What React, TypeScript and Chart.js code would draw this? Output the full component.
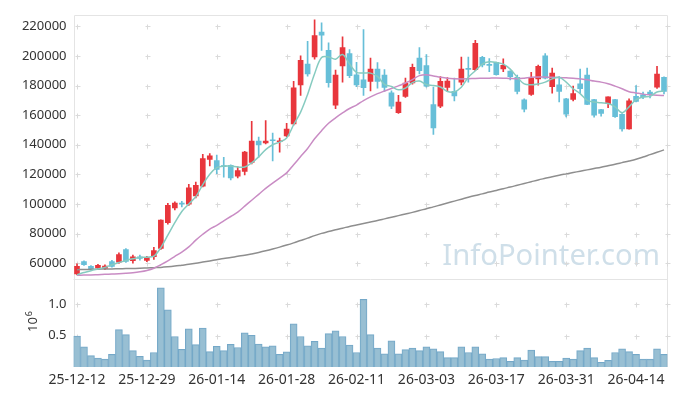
import React, { useEffect, useRef } from 'react';
import { Chart, registerables } from 'chart.js';
Chart.register(...registerables);

const dates = [
  '25-12-12','25-12-15','25-12-16','25-12-17','25-12-18','25-12-19','25-12-22','25-12-23','25-12-24','25-12-26',
  '25-12-29','25-12-30','26-01-02','26-01-05','26-01-06','26-01-07','26-01-08','26-01-09','26-01-12','26-01-13',
  '26-01-14','26-01-15','26-01-16','26-01-19','26-01-20','26-01-21','26-01-22','26-01-23','26-01-26','26-01-27',
  '26-01-28','26-01-29','26-01-30','26-02-02','26-02-03','26-02-04','26-02-05','26-02-06','26-02-09','26-02-10',
  '26-02-11','26-02-12','26-02-13','26-02-19','26-02-20','26-02-23','26-02-24','26-02-25','26-02-26','26-02-27',
  '26-03-03','26-03-04','26-03-05','26-03-06','26-03-09','26-03-10','26-03-11','26-03-12','26-03-13','26-03-16',
  '26-03-17','26-03-18','26-03-19','26-03-20','26-03-23','26-03-24','26-03-25','26-03-26','26-03-27','26-03-30',
  '26-03-31','26-04-01','26-04-02','26-04-03','26-04-06','26-04-07','26-04-08','26-04-09','26-04-10','26-04-13',
  '26-04-14','26-04-15','26-04-16','26-04-17','26-04-20'
];

const opens = [
  52700,61100,57800,56700,56400,61100,60700,69100,61600,64300,
  61800,64300,70000,87300,97300,100200,99800,105400,112000,130000,
  129300,125800,126000,118700,122000,128000,142500,141200,143100,142000,
  146000,154000,180500,194500,199300,216200,203800,166700,193300,201600,
  187300,183800,182700,191100,187100,175100,161600,172700,181800,198500,
  193500,167100,166000,178800,176100,182300,191300,190700,199100,194000,
  195600,191300,189800,185600,170300,174000,184500,200000,179300,180500,
  171100,170700,181100,187100,170500,163800,167800,170500,160500,150700,
  172700,173800,175600,178900,185600
];
const highs = [
  59600,61500,58400,59100,58800,61800,66900,69800,65500,65400,
  64600,70600,89300,100400,101400,101800,113300,114800,133500,134000,
  133000,131500,126500,125100,135600,155800,145100,156300,147800,144500,
  154500,182900,200000,209800,224400,222300,208800,190500,212900,204300,
  195600,217800,198500,195500,190700,176400,173300,185100,194500,205600,
  201000,179000,186000,185300,185000,199300,199300,210500,199800,198300,
  195900,198000,190000,187100,171100,188900,193800,201600,191800,186000,
  171300,179600,191100,191800,170700,164000,172300,170700,161000,171100,
  180000,175600,176700,193000,185800
];
const lows = [
  52000,58500,55600,56000,55600,57300,59800,60400,60000,62000,
  61000,62500,69300,86300,96000,98000,99000,104100,111500,125600,
  120500,118000,116300,117600,119600,127000,131600,140500,129100,134900,
  145500,153300,173300,186300,197800,203800,178900,164300,182200,185300,
  179300,173300,176300,178300,176000,164300,161100,171900,181000,187800,
  178900,147000,165000,176000,169600,180500,182300,190000,192600,189300,
  187000,189300,183800,174400,162200,173300,180200,184500,174900,168900,
  158800,169600,174900,167100,158700,159300,165100,158500,149100,150500,
  168900,171100,171600,178100,174400
];
const closes = [
  57800,58900,56300,58500,58000,57800,65800,61100,64300,63100,
  63800,68500,89100,99100,100500,99900,110900,112500,130700,132500,
  123300,125200,117600,122500,135100,142500,139800,142500,142700,142700,
  150500,178500,197100,187800,213800,214000,182000,187100,205700,186700,
  180500,178500,191100,182700,178700,166000,168900,181600,192300,190000,
  179500,151400,182900,183000,172900,191100,190900,208500,194000,193600,
  187300,193600,186000,176000,164000,184900,192900,184900,188500,176000,
  160700,174500,177800,167300,160000,161100,172300,158900,150700,169600,
  169300,172300,173800,187800,176000
];

// trading volume, in units of 10^6
const volumes = [
  0.49,0.32,0.18,0.14,0.125,0.20,0.595,0.515,0.26,0.17,
  0.11,0.23,1.26,0.91,0.485,0.28,0.605,0.355,0.62,0.245,
  0.33,0.26,0.36,0.31,0.545,0.505,0.365,0.32,0.335,0.20,
  0.24,0.685,0.485,0.335,0.41,0.30,0.53,0.575,0.485,0.35,
  0.23,1.075,0.515,0.30,0.21,0.415,0.21,0.275,0.30,0.26,
  0.32,0.29,0.245,0.15,0.15,0.32,0.23,0.32,0.21,0.125,
  0.135,0.15,0.09,0.15,0.11,0.27,0.165,0.165,0.09,0.09,
  0.14,0.125,0.26,0.30,0.15,0.075,0.105,0.23,0.29,0.245,
  0.20,0.125,0.125,0.29,0.20
];

const ma5 = [
  52200,53600,54900,56000,57100,58900,60400,61800,62900,63800,
  64000,64700,70500,78900,87300,94900,100000,104900,113000,120000,
  124500,125600,125600,125000,124900,127800,131800,136700,140000,141800,
  144500,153500,162000,174000,188000,198900,199300,197800,201000,194500,
  188900,188500,188400,186200,180800,179300,177100,178300,182000,183000,
  180600,180000,179000,176000,175800,178900,185600,190000,194500,196000,
  195600,194500,191100,185600,181100,180500,181100,182300,184500,185600,
  182300,177800,174500,170000,168900,168300,167800,165600,161600,165600,
  170500,172300,172700,175600,176300
];
const ma20 = [
  51800,51900,52000,52200,52400,52600,52800,53100,53500,54100,
  55000,56500,58900,61500,64500,67500,71000,75500,79500,83000,
  85500,88500,91500,94500,98500,102500,106500,110500,114000,117500,
  121000,126500,132000,137500,144000,149500,154500,158200,161500,164500,
  166800,169800,172300,174500,176300,178000,179800,181700,184000,186700,
  187300,186500,185600,184900,184600,184500,184600,184800,184900,185000,
  185100,185000,184700,184600,185000,185600,185800,185700,185600,185400,
  185200,185000,184500,183900,183000,182300,181200,179600,177800,175800,
  175000,174200,173700,173400,173300
];
const ma60 = [
  55600,55700,55800,55900,56000,56100,56200,56300,56400,56500,
  56700,56900,57100,57500,58000,58600,59200,59900,60700,61500,
  62300,63100,63800,64600,65300,66200,67200,68300,69500,70800,
  72200,73700,75300,76900,78600,80100,81300,82500,83600,84800,
  85800,86800,87800,88800,89900,91000,92100,93200,94300,95500,
  96800,98000,99300,100600,101900,103200,104500,105700,106800,108000,
  109100,110300,111400,112600,113800,115000,116200,117300,118400,119400,
  120300,121200,122100,123000,123900,124800,125800,126800,127900,129000,
  130200,131700,133300,134900,136500
];

const priceTicks = [60000, 80000, 100000, 120000, 140000, 160000, 180000, 200000, 220000];
const volumeTicks = [0.5, 1.0];
const labelEvery = 10;

const FONT = '"Noto Sans", sans-serif';
const UP = '#e8363c';
const DOWN = '#67bfd8';

const decor = {
  id: 'decor',
  beforeDatasetsDraw(chart: any) {
    const ctx = chart.ctx;
    const { left, right, top, bottom } = chart.chartArea;
    const xs = chart.scales.x;
    const ys = chart.scales.y;
    const yv = chart.scales.yv;
    ctx.save();
    // watermark
    ctx.font = '30px ' + FONT;
    const w = ctx.measureText('InfoPointer.com').width;
    const size = 30 * 218 / w;
    ctx.font = size.toFixed(1) + 'px ' + FONT;
    ctx.fillStyle = '#cfdfe9';
    ctx.textAlign = 'right';
    ctx.textBaseline = 'alphabetic';
    ctx.fillText('InfoPointer.com', 660, 265);
    // frame
    ctx.strokeStyle = '#e4e4e4';
    ctx.lineWidth = 1;
    ctx.beginPath();
    ctx.moveTo(Math.round(left) + 0.5, bottom);
    ctx.lineTo(Math.round(left) + 0.5, Math.round(top) + 0.5);
    ctx.lineTo(Math.round(right) - 0.5, Math.round(top) + 0.5);
    ctx.lineTo(Math.round(right) - 0.5, bottom);
    ctx.moveTo(left, Math.round(ys.bottom) + 0.5);
    ctx.lineTo(right, Math.round(ys.bottom) + 0.5);
    ctx.stroke();
    // crosses
    const xp: number[] = [];
    for (let i = 0; i < dates.length; i += labelEvery) xp.push(Math.round(xs.getPixelForValue(i)) + 0.5);
    xp.push(Math.round(right) - 0.5);
    const yp: number[] = [];
    priceTicks.forEach(v => yp.push(Math.round(ys.getPixelForValue(v)) + 0.5));
    volumeTicks.forEach(v => yp.push(Math.round(yv.getPixelForValue(v)) + 0.5));
    ctx.strokeStyle = '#dadada';
    ctx.beginPath();
    xp.forEach(x => yp.forEach(y => {
      ctx.moveTo(x - 2, y); ctx.lineTo(x + 3, y);
      ctx.moveTo(x, y - 2); ctx.lineTo(x, y + 3);
    }));
    ctx.stroke();
    ctx.restore();
  },
  afterDraw(chart: any) {
    const ctx = chart.ctx;
    ctx.save();
    ctx.translate(37, 332);
    ctx.rotate(-Math.PI / 2);
    ctx.fillStyle = '#333';
    ctx.textAlign = 'left';
    ctx.textBaseline = 'alphabetic';
    ctx.font = '13px ' + FONT;
    ctx.fillText('10', 0, 0);
    const w = ctx.measureText('10').width;
    ctx.font = '9px ' + FONT;
    ctx.fillText('6', w + 1, -5);
    ctx.restore();
  }
};

export default function App() {
  const ref = useRef<HTMLCanvasElement>(null);
  useEffect(() => {
    const colors = closes.map((c, i) => (c >= opens[i] ? UP : DOWN));
    const chart = new Chart(ref.current as HTMLCanvasElement, {
      type: 'bar',
      data: {
        labels: dates,
        datasets: [
          { type: 'line', label: 'MA5', data: ma5, borderColor: '#86cbc0', borderWidth: 1.5, pointRadius: 0, tension: 0.35, yAxisID: 'y', order: 0 } as any,
          { type: 'line', label: 'MA20', data: ma20, borderColor: '#c98cc4', borderWidth: 1.5, pointRadius: 0, tension: 0.35, yAxisID: 'y', order: 0 } as any,
          { type: 'line', label: 'MA60', data: ma60, borderColor: '#8e8e8e', borderWidth: 1.5, pointRadius: 0, tension: 0.35, yAxisID: 'y', order: 0 } as any,
          { type: 'bar', label: 'body', data: opens.map((o, i) => [o, closes[i]]), backgroundColor: colors, barThickness: 5, grouped: false, minBarLength: 1, yAxisID: 'y', order: 1 } as any,
          { type: 'bar', label: 'wick', data: lows.map((l, i) => [l, highs[i]]), backgroundColor: colors, barThickness: 1, grouped: false, yAxisID: 'y', order: 2 } as any,
          { type: 'bar', label: 'volume', data: volumes, backgroundColor: 'rgba(146,188,209,0.95)', borderColor: '#74a8c8', borderWidth: 1, barPercentage: 1, categoryPercentage: 1, grouped: false, yAxisID: 'yv', order: 3 } as any,
        ],
      },
      options: {
        animation: false,
        responsive: false,
        devicePixelRatio: 1,
        layout: { padding: { top: 10, right: 9.5, left: 0, bottom: 0 } },
        plugins: { legend: { display: false }, tooltip: { enabled: false } },
        scales: {
          x: {
            type: 'category',
            offset: true,
            grid: { display: false, drawTicks: false },
            border: { display: false },
            ticks: {
              autoSkip: false, maxRotation: 0, padding: 5, color: '#333',
              font: { family: FONT, size: 14 },
              callback: (v: any, i: number) => (i % labelEvery === 0 ? dates[i] : null),
            },
            afterFit: (s: any) => { s.height = 29; },
          },
          y: {
            type: 'linear', position: 'left', stack: 'panels', stackWeight: 3, weight: 2,
            min: 49300, max: 227800,
            afterBuildTicks: (s: any) => { s.ticks = priceTicks.map(v => ({ value: v })); },
            grid: { display: false, drawTicks: false },
            border: { display: false },
            ticks: { autoSkip: false, padding: 7, color: '#333', font: { family: FONT, size: 13 }, callback: (v: any) => String(v) },
            afterFit: (s: any) => { s.width = 73.5; },
          },
          yv: {
            type: 'linear', position: 'left', stack: 'panels', stackWeight: 1, weight: 1,
            min: 0, max: 1.4,
            afterBuildTicks: (s: any) => { s.ticks = volumeTicks.map(v => ({ value: v })); },
            grid: { display: false, drawTicks: false },
            border: { display: false },
            ticks: { autoSkip: false, padding: 7, color: '#333', font: { family: FONT, size: 13 }, callback: (v: any) => Number(v).toFixed(1) },
            afterFit: (s: any) => { s.width = 73.5; },
          },
        } as any,
      },
      plugins: [decor],
    });
    return () => chart.destroy();
  }, []);
  return (
    <div style={{ position: 'fixed', left: 0, top: 0, width: 677, height: 396, background: '#fff' }}>
      <canvas ref={ref} width={677} height={396} style={{ display: 'block', width: 677, height: 396 }} />
    </div>
  );
}
